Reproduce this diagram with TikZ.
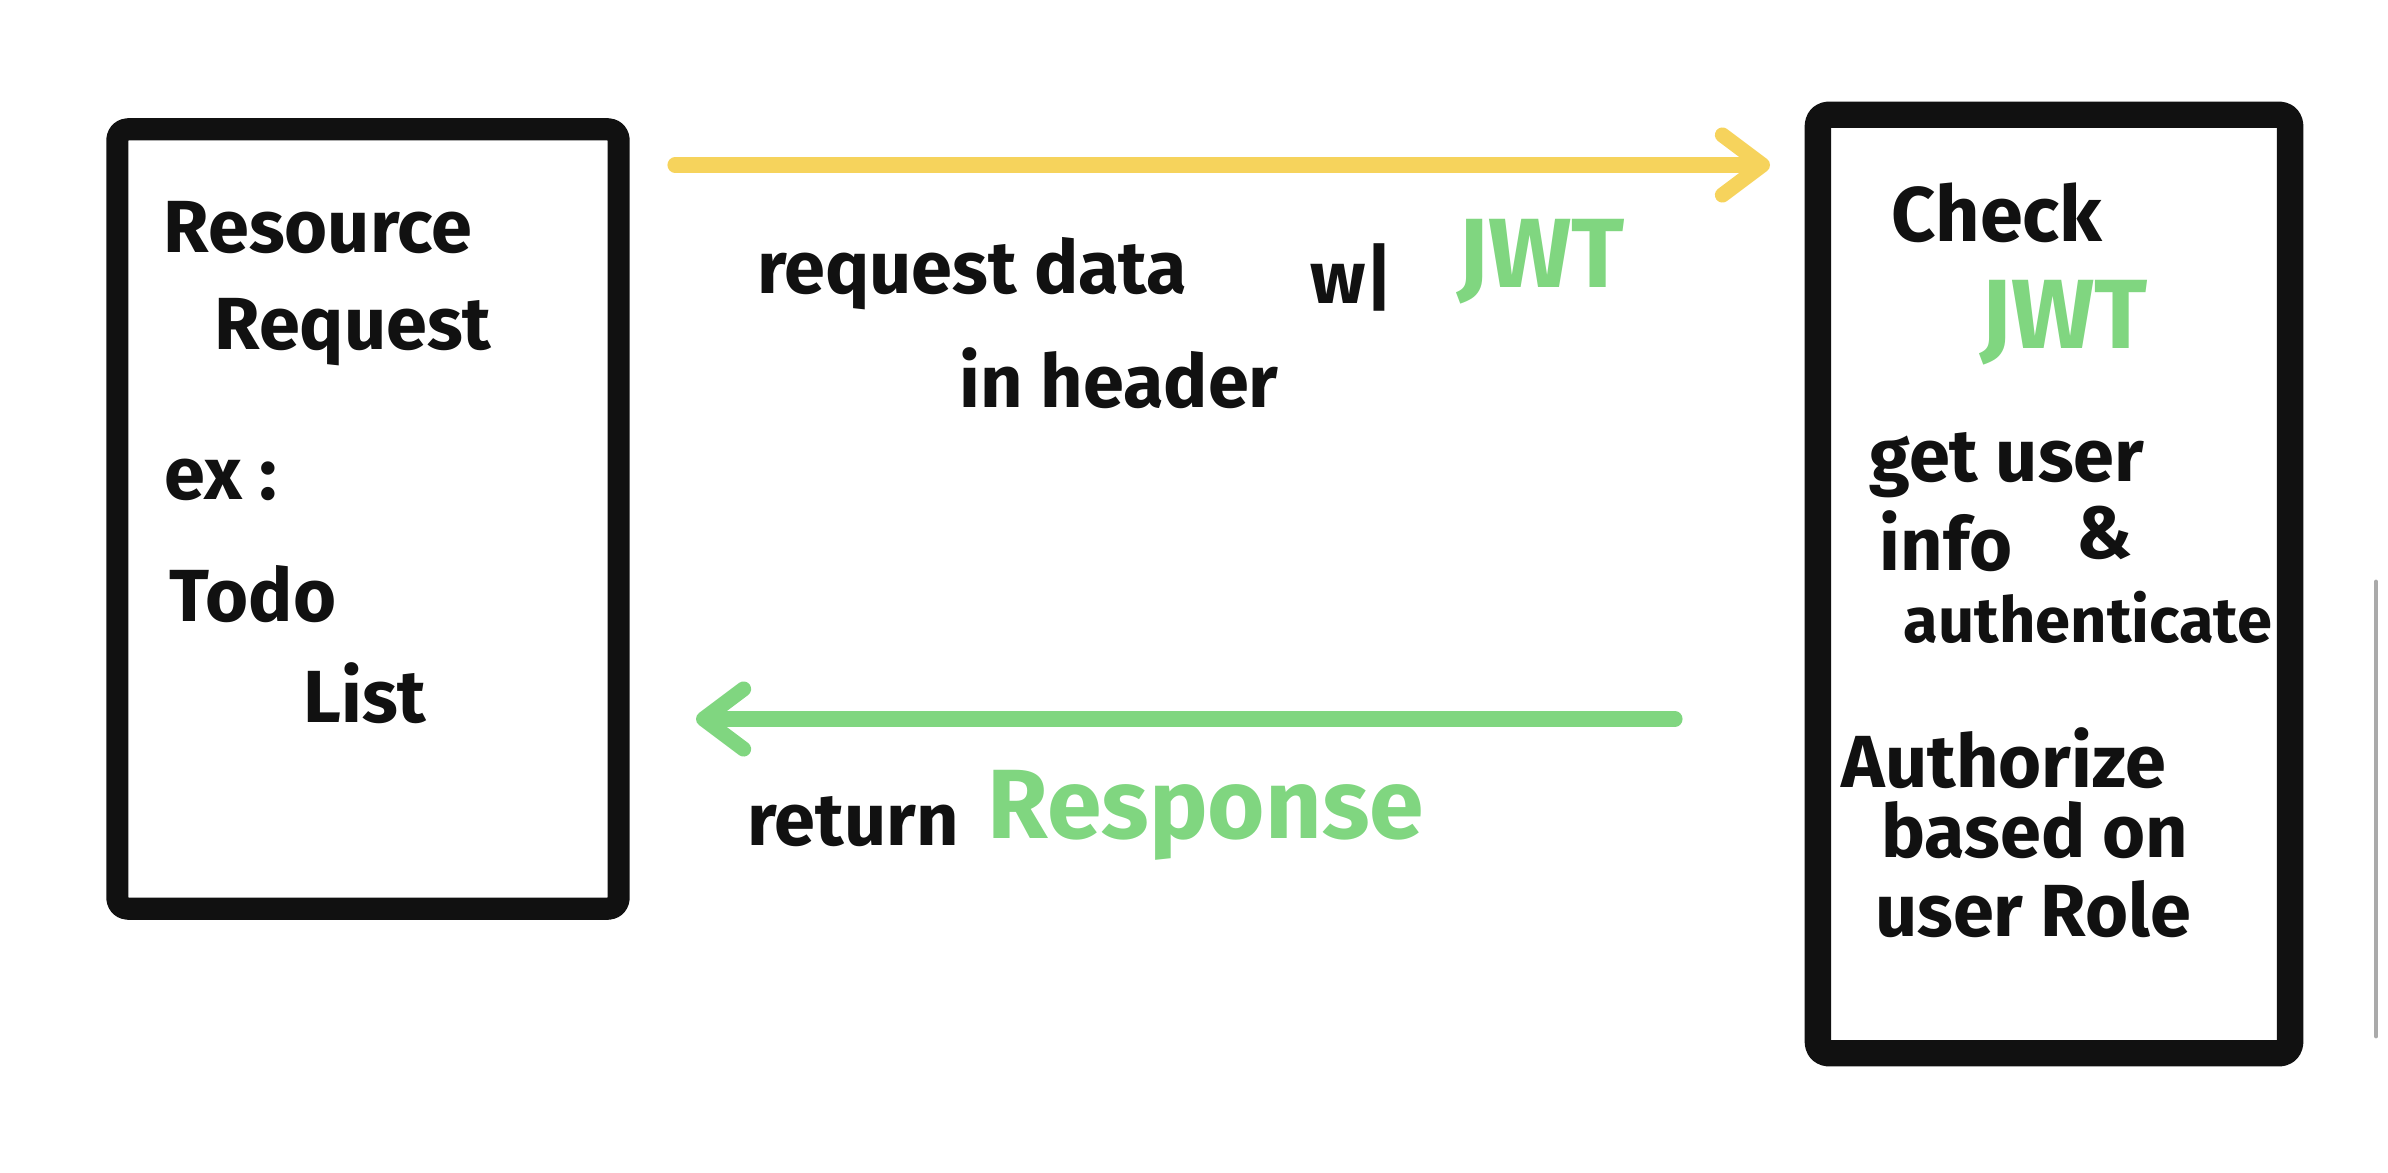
\documentclass[tikz,border=0pt]{standalone}
\usepackage{fontspec}
\setmainfont{Fira Sans}
\usetikzlibrary{arrows.meta}
\definecolor{ink}{HTML}{111111}
\definecolor{jwtgreen}{HTML}{80D680}
\definecolor{reqyellow}{HTML}{F6D35C}
\definecolor{scrollgray}{HTML}{AAAAAA}

\tikzset{
  box/.style={draw=ink, rectangle, rounded corners=3pt},
  hand/.style={text=ink, font=\bfseries\fontsize{21}{25}\selectfont, inner sep=0pt},
  hilite/.style={text=jwtgreen, font=\bfseries\fontsize{28}{32}\selectfont, inner sep=0pt},
  flow/.style={line width=4.3pt, -{Straight Barb[length=0.4cm, width=0.6cm, round]}},
}

\begin{document}
\begin{tikzpicture}[line cap=round,line join=round,x=0.01cm,y=-0.01cm]
    \useasboundingbox (0,0) rectangle (2388,1173);
    \node[box, line width=6.3pt, minimum width=5.01cm, minimum height=7.79cm] (client) at (368,519) {};
    \node[box, line width=7.5pt, minimum width=4.72cm, minimum height=9.38cm] (server) at (2054,584) {};
    \node[hand] (resource) at (318,228) {Resource};
    \node[hand] (request) at (353,332) {Request};
    \node[hand] (ex) at (221,480) {ex :};
    \node[hand] (todo) at (253,594) {Todo};
    \node[hand] (list) at (365,693) {List};
    \coordinate (req start) at (675,165);
    \coordinate (req end) at (1770,165);
    \draw[flow, color=reqyellow] (req start) -- (req end);
    \node[hand] (reqdata) at (972,274) {request data};
    \node[hand] (with) at (1352,277) {w|};
    \node[hilite] (jwt a) at (1541,262) {JWT};
    \node[hand] (header) at (1119,378) {in header};
    \coordinate (resp start) at (1675,719);
    \coordinate (resp end) at (696,719);
    \draw[flow, color=jwtgreen] (resp start) -- (resp end);
    \node[hand] (return) at (853,822) {return};
    \node[hilite] (response) at (1206,815) {Response};
    \node[hand, font=\bfseries\fontsize{22}{26}\selectfont] (check) at (1997,213) {Check};
    \node[hilite] (jwt b) at (2064,323) {JWT};
    \node[hand] (getuser) at (2007,465) {get user};
    \node[hand] (info) at (1946,541) {info};
    \node[hand] (and) at (2105,533) {\&};
    \node[hand, font=\bfseries\fontsize{18}{22}\selectfont] (authn) at (2088,617) {authenticate};
    \node[hand] (authz) at (2004,758) {Authorize};
    \node[hand] (based) at (2035,830) {based on};
    \node[hand] (role) at (2033,909) {user Role};
    \draw[color=scrollgray, line width=1.4pt] (2376,582) -- (2376,1036);
\end{tikzpicture}
\end{document}
